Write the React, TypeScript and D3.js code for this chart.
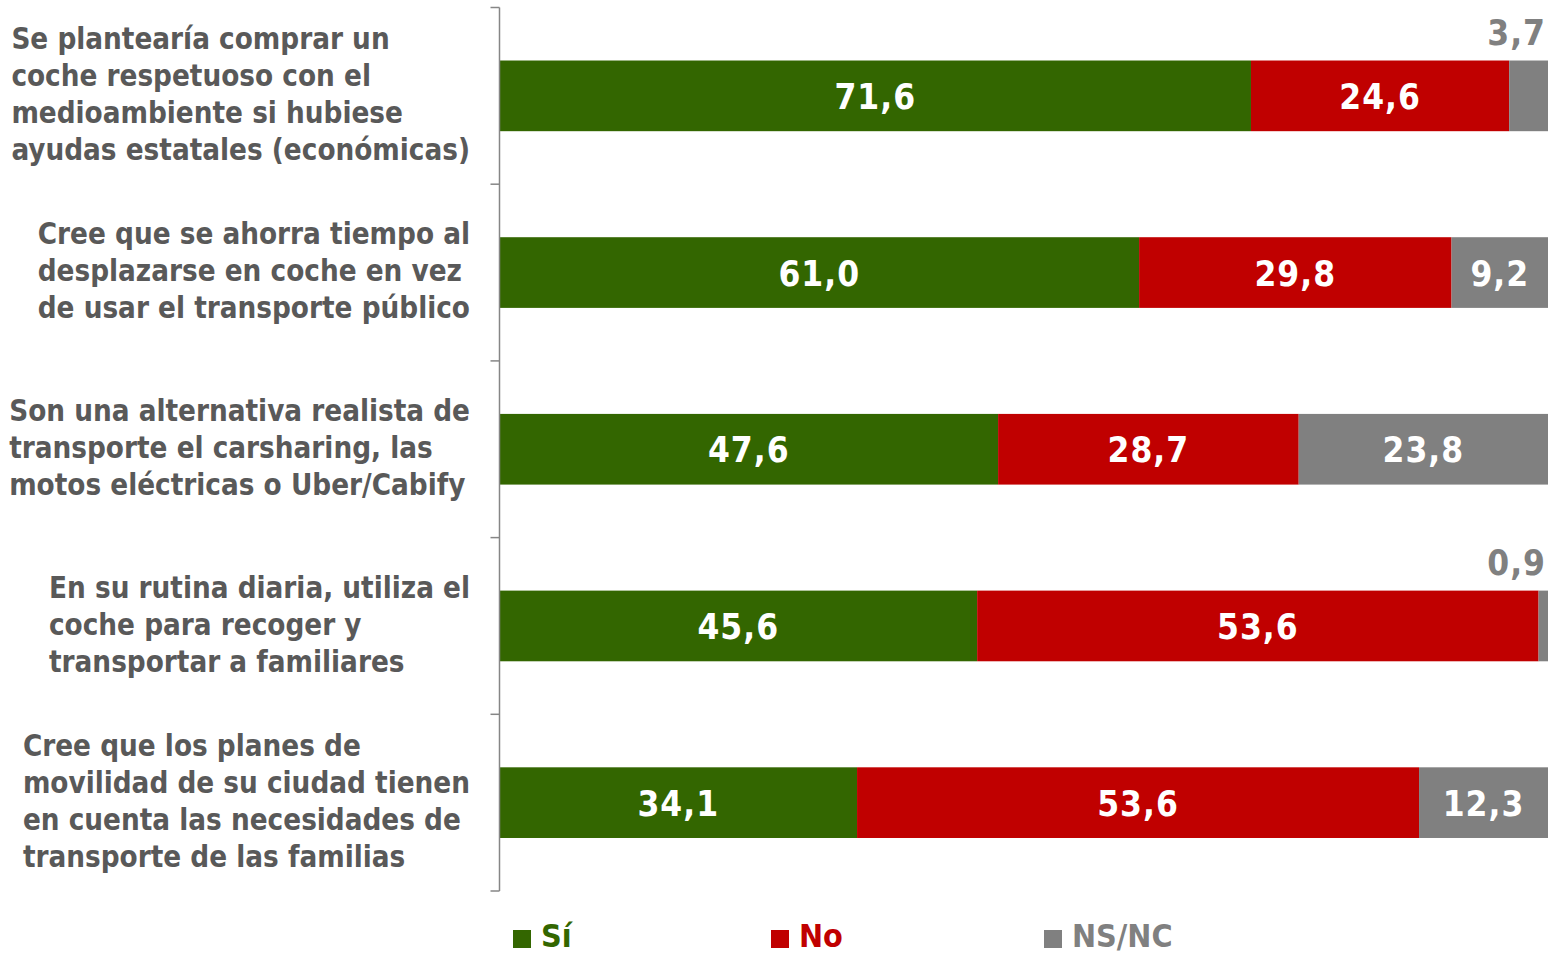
import React, { useEffect, useRef } from "react";
import * as d3 from "d3";

const categories: string[][] = [
  ["Se plantearía comprar un", "coche respetuoso con el", "medioambiente si hubiese", "ayudas estatales (económicas)"],
  ["Cree que se ahorra tiempo al", "desplazarse en coche en vez", "de usar el transporte público"],
  ["Son una alternativa realista de", "transporte el carsharing, las", "motos eléctricas o Uber/Cabify"],
  ["En su rutina diaria, utiliza el", "coche para recoger y", "transportar a familiares"],
  ["Cree que los planes de", "movilidad de su ciudad tienen", "en cuenta las necesidades de", "transporte de las familias"],
];
const seriesNames = ["Sí", "No", "NS/NC"];
const siValues = [71.6, 61.0, 47.6, 45.6, 34.1];
const noValues = [24.6, 29.8, 28.7, 53.6, 53.6];
const nsncValues = [3.7, 9.2, 23.8, 0.9, 12.3];
const colors = ["#336600", "#C00000", "#808080"];

const W = 1558;
const H = 955;

export default function App() {
  const ref = useRef<SVGSVGElement>(null);
  useEffect(() => {
    const svg = d3.select(ref.current);
    svg.selectAll("*").remove();
    const axisX = 499.5;
    const y = d3
      .scaleBand<number>()
      .domain(categories.map((_, i) => i))
      .range([7.5, 891])
      .paddingInner(0.6)
      .paddingOuter(0.3);
    const x = d3.scaleLinear().domain([0, 100]).range([axisX, 1548]);
    const step = y.step();

    const rows = categories.map((c, i) => {
      const vals = [siValues[i], noValues[i], nsncValues[i]];
      const total = d3.sum(vals);
      let acc = 0;
      const segs = vals.map((v, k) => {
        const s = { k, v, x0: (acc / total) * 100, x1: ((acc + v) / total) * 100 };
        acc += v;
        return s;
      });
      return { i, segs };
    });

    const g = svg.append("g");
    rows.forEach((r) => {
      const y0 = y(r.i)!;
      const bh = y.bandwidth();
      r.segs.forEach((s) => {
        g.append("rect")
          .attr("x", x(s.x0))
          .attr("y", y0)
          .attr("width", x(s.x1) - x(s.x0))
          .attr("height", bh)
          .attr("fill", colors[s.k]);
        const label = s.v.toFixed(1).replace(".", ",");
        if (s.v >= 5) {
          g.append("text")
            .attr("x", (x(s.x0) + x(s.x1)) / 2)
            .attr("y", y0 + bh / 2 + 13)
            .attr("text-anchor", "middle")
            .attr("fill", "#ffffff")
            .attr("font-family", "DejaVu Sans Condensed")
            .attr("font-weight", "bold")
            .attr("font-size", 35)
            .attr("letter-spacing", 1)
            .text(label);
        } else {
          g.append("text")
            .attr("x", 1546)
            .attr("y", y0 - 16)
            .attr("text-anchor", "end")
            .attr("fill", colors[2])
            .attr("font-family", "DejaVu Sans Condensed")
            .attr("font-weight", "bold")
            .attr("font-size", 35)
            .attr("letter-spacing", 1)
            .text(label);
        }
      });
    });

    // axis
    const ax = svg.append("g").attr("stroke", "#868686").attr("stroke-width", 1.5);
    ax.append("line").attr("x1", axisX).attr("x2", axisX).attr("y1", 7.5).attr("y2", 891);
    d3.range(categories.length + 1).forEach((k) => {
      const yy = 7.5 + k * step;
      ax.append("line").attr("x1", axisX - 9).attr("x2", axisX).attr("y1", yy).attr("y2", yy);
    });

    // category labels
    const lineH = 37;
    categories.forEach((lines, i) => {
      const cy = y(i)! + y.bandwidth() / 2;
      const tg = svg.append("g");
      lines.forEach((ln, j) => {
        tg.append("text")
          .attr("x", 0)
          .attr("y", cy + (j - (lines.length - 1) / 2) * lineH)
          .attr("dy", "0.3em")
          .attr("fill", "#595959")
          .attr("font-family", "DejaVu Sans Condensed")
          .attr("font-weight", "bold")
          .attr("font-size", 29.3)
          .text(ln);
      });
      const bb = (tg.node() as SVGGElement).getBBox();
      tg.attr("transform", `translate(${470 - bb.width},0)`);
    });

    // legend
    const legendX = [513, 771, 1044];
    seriesNames.forEach((n, k) => {
      svg.append("rect")
        .attr("x", legendX[k])
        .attr("y", 930)
        .attr("width", 18)
        .attr("height", 18)
        .attr("fill", colors[k]);
      svg.append("text")
        .attr("x", legendX[k] + 28)
        .attr("y", 947)
        .attr("fill", colors[k])
        .attr("font-family", "DejaVu Sans Condensed")
        .attr("font-weight", "bold")
        .attr("font-size", 32)
        .text(n);
    });
  }, []);
  return (
    <svg
      ref={ref}
      width={W}
      height={H}
      style={{ position: "absolute", left: 0, top: 0, background: "#ffffff" }}
    />
  );
}
